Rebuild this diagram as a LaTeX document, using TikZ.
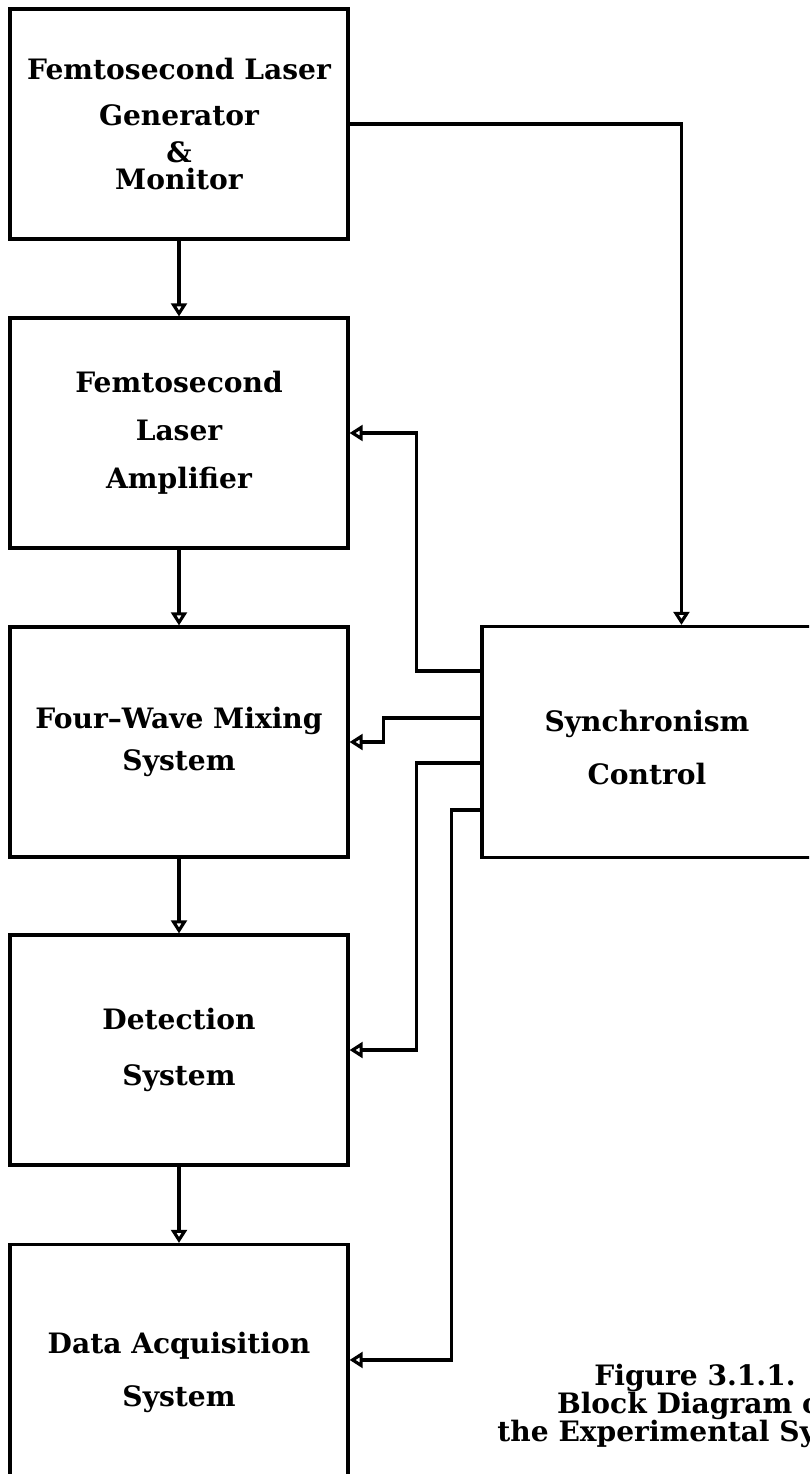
\documentclass[tikz,border=0pt]{standalone}
\usepackage{fontspec}
\setmainfont{DejaVu Serif}
\usetikzlibrary{arrows.meta, calc}

\begin{document}
\begin{tikzpicture}[x=0.02cm, y=-0.02cm, line width=1.8pt,
    block/.style={draw, line width=1.8pt, align=center, minimum width=6.76cm, minimum height=4.6cm,
        font=\bfseries\fontsize{16pt}{19.2pt}\selectfont},
    flow/.style={-{Triangle[open, width=9pt, length=7.5pt]}, line width=1.8pt}]
        \useasboundingbox (0,0) rectangle (809,1474);
        \clip (0,0) rectangle (809,1474);

        \node[block] (gen) at (179,124) {Femtosecond Laser\\[7pt] Generator\\[2pt] \&\\[-4pt] Monitor};
        \node[block] (amp) at (179,433) {Femtosecond\\[8pt] Laser\\[8pt] Amplifier};
        \node[block] (fwm) at (179,742) {Four--Wave Mixing\\[5pt] System};
        \node[block] (det) at (179,1050) {Detection\\[13pt] System};
        \node[block, minimum height=5.1cm] (daq) at (179,1372) {Data Acquisition\\[11pt] System};
        \node[block, minimum width=6.6cm, minimum height=4.62cm] (sync) at (647,742)
            {\rule{0pt}{18pt}Synchronism\\[11pt] Control};

        \node[align=center, font=\bfseries\fontsize{16pt}{16pt}\selectfont] (cap) at (695,1406)
            {Figure 3.1.1.\\ Block Diagram of\\ the Experimental System};

        \draw[flow] (gen) -- (amp);
        \draw[flow] (amp) -- (fwm);
        \draw[flow] (fwm) -- (det);
        \draw[flow] (det) -- (daq);

        \draw[flow] (gen.east) -| ($(sync.north west)+(201,0)$);
        \draw[flow] ($(sync.north west)+(0,46)$) -| ($(amp.east)+(67,0)$) -- (amp.east);
        \draw[flow] ($(sync.north west)+(0,93)$) -| ($(fwm.east)+(34,0)$) -- (fwm.east);
        \draw[flow] ($(sync.north west)+(0,138)$) -| ($(det.east)+(67,0)$) -- (det.east);
        \draw[flow] ($(sync.north west)+(0,185)$) -| ($(daq.north east)+(102,117)$) -- ($(daq.north east)+(0,117)$);

\end{tikzpicture}
\end{document}
